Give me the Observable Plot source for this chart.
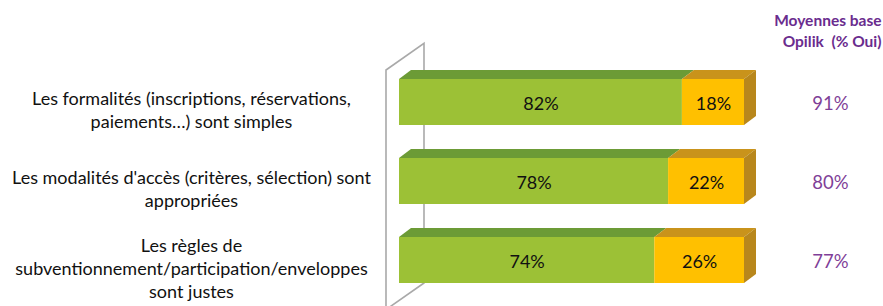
<!DOCTYPE html>
<html><head><meta charset="utf-8">
<script src="https://cdn.jsdelivr.net/npm/d3@7"></script>
<script src="https://cdn.jsdelivr.net/npm/@observablehq/plot@0.6"></script>
<style>body{margin:0;background:#fff} svg{display:block}</style>
</head><body><div id="chart"></div>
<script>
// ---- data ----
const categories = [
  "Les formalités (inscriptions, réservations,\npaiements…) sont simples",
  "Les modalités d'accès (critères, sélection) sont\nappropriées",
  "Les règles de\nsubventionnement/participation/enveloppes\nsont justes"
];
const ouiValues = [82, 78, 74];
const nonValues = [18, 22, 26];
const opilikValues = [91, 80, 77];
const seriesNames = ["Oui", "Non"];
const headerText = "Moyennes base\nOpilik  (% Oui)";

// ---- styles ----
const frontColor = {Oui: "#9CC136", Non: "#FFC000"};
const topColor = {Oui: "#6C9B36", Non: "#C9931B"};
const sideColor = "#B8871C";
const depthX = 12, depthY = 9;
const font = "Lato, 'Open Sans', sans-serif";

const rows = categories.flatMap((c, i) => [
  {cat: c, serie: seriesNames[0], x1: 0, x2: ouiValues[i], v: ouiValues[i]},
  {cat: c, serie: seriesNames[1], x1: ouiValues[i], x2: ouiValues[i] + nonValues[i], v: nonValues[i]}
]);
const lastRows = rows.filter(d => d.serie === seriesNames[1]);
const opilik = categories.map((c, i) => ({cat: c, v: opilikValues[i]}));

const plot = Plot.plot({
  width: 883, height: 306,
  marginLeft: 399, marginRight: 139, marginTop: 63, marginBottom: 7.4,
  style: {fontFamily: font, background: "#fff"},
  x: {domain: [0, 100], axis: null},
  y: {domain: categories, axis: null, paddingInner: 0.42, paddingOuter: 0.2},
  marks: [
    Plot.barX(rows, {x1: "x1", x2: "x2", y: "cat", fill: d => topColor[d.serie]}),
    Plot.barX(lastRows, {x1: "x1", x2: "x2", y: "cat", fill: sideColor}),
    Plot.barX(rows, {x1: "x1", x2: "x2", y: "cat", fill: d => frontColor[d.serie]}),
    Plot.text(rows, {x: d => (d.x1 + d.x2) / 2, y: "cat", text: d => d.v + "%", fontSize: 18, fill: "#111", dy: 2}),
    Plot.text(categories, {y: d => d, text: d => d, frameAnchor: "left", dx: -208, textAnchor: "middle", fontSize: 18, lineHeight: 1.27, fill: "#111", dy: 7}),
    Plot.text(opilik, {y: "cat", text: d => d.v + "%", frameAnchor: "right", dx: 86, textAnchor: "middle", fontSize: 18.5, fill: "#7F3F98", dy: 2}),
    Plot.text([headerText], {frameAnchor: "top-right", dx: 137, dy: -52, textAnchor: "end", lineAnchor: "top", fontSize: 15.5, fontWeight: "bold", lineHeight: 1.35, fill: "#6A2C8E"})
  ]
});

const svg = d3.select(plot);
const barGroups = svg.selectAll('g[aria-label="bar"]').nodes();
const [topG, sideG] = barGroups;
// top faces: move above the front face and skew into a parallelogram
d3.select(topG).selectAll("rect").each(function() {
  const r = d3.select(this);
  const t = +r.attr("y");
  r.attr("y", t - depthY).attr("height", depthY)
   .attr("transform", `translate(0,${t}) skewX(${Math.atan(-depthX / depthY) * 180 / Math.PI}) translate(0,${-t})`);
});
// side faces
d3.select(sideG).selectAll("rect").each(function() {
  const r = d3.select(this);
  const e = +r.attr("x") + +r.attr("width");
  r.attr("x", e).attr("width", depthX)
   .attr("transform", `translate(${e},0) skewY(${Math.atan(-depthY / depthX) * 180 / Math.PI}) translate(${-e},0)`);
});
// 3D back wall outline derived from the scales
const xs = plot.scale("x"), ys = plot.scale("y");
const x0 = xs.apply(0);
const bw = ys.bandwidth;
const firstTop = ys.apply(categories[0]);
const lastBottom = ys.apply(categories[categories.length - 1]) + bw;
const wallD = 38, wallSlope = 0.7;
const frontX = x0 - 13, backX = frontX + wallD;
const path = d3.path();
path.moveTo(frontX, 320);
path.lineTo(frontX, firstTop - depthY);
path.lineTo(backX, firstTop - depthY - wallD * wallSlope);
path.lineTo(backX, lastBottom);
path.lineTo(frontX, lastBottom + wallD * wallSlope);
plot.insertBefore(
  d3.create("svg:path").attr("d", path.toString()).attr("fill", "none")
    .attr("stroke", "#A9A9A9").attr("stroke-width", 1.6).node(),
  topG);

document.getElementById("chart").append(plot);
</script>
</body></html>
